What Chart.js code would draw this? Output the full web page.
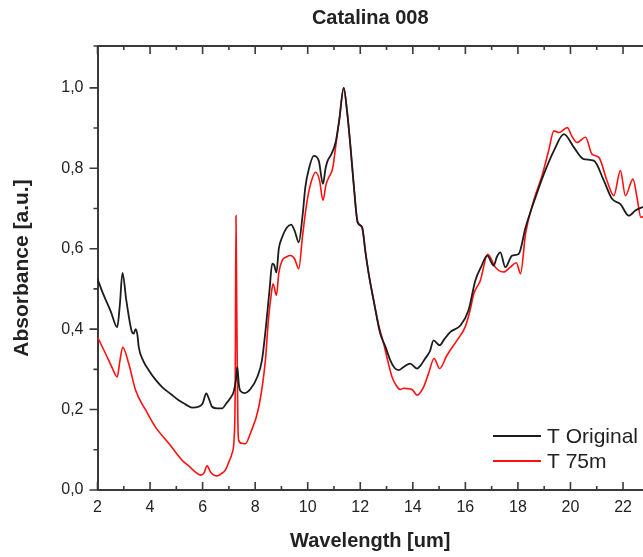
<!DOCTYPE html>
<html>
<head>
<meta charset="utf-8">
<script src="https://cdn.jsdelivr.net/npm/chart.js@4.4.1/dist/chart.umd.min.js"></script>
<style>
  html, body { margin: 0; padding: 0; background: #fff; }
  #wrap { width: 643px; height: 557px; }
</style>
</head>
<body>
<div id="wrap"><canvas id="myChart"></canvas></div>
<script>
// T Original (black)
const wlOriginal = [2.0, 2.2, 2.5, 2.75, 2.85, 2.95, 3.1, 3.3, 3.38, 3.45, 3.52, 3.57, 3.75, 3.95, 4.2, 4.46, 4.8, 5.09, 5.35, 5.6,
  5.85, 6.0, 6.14, 6.25, 6.36, 6.55, 6.74, 6.9, 7.05, 7.18, 7.27, 7.32, 7.38, 7.44, 7.6, 7.82, 8.08, 8.26, 8.4, 8.55,
  8.65, 8.72, 8.81, 8.9, 9.03, 9.2, 9.37, 9.5, 9.66, 9.8, 9.91, 10.05, 10.23, 10.42, 10.58, 10.68, 10.76, 10.9, 11.06, 11.2,
  11.37, 11.5, 11.63, 11.75, 11.9, 12.07, 12.2, 12.32, 12.51, 12.76, 12.96, 13.14, 13.3, 13.46, 13.65, 13.9, 14.16, 14.3, 14.47, 14.65,
  14.79, 15.02, 15.2, 15.43, 15.81, 16.12, 16.38, 16.6, 16.83, 17.08, 17.2, 17.33, 17.52, 17.78, 18.03, 18.29, 18.67, 18.99, 19.37, 19.75,
  20.13, 20.5, 20.89, 21.27, 21.58, 21.9, 22.22, 22.47, 22.8];
const absOriginal = [0.525, 0.49, 0.445, 0.405, 0.46, 0.54, 0.47, 0.395, 0.389, 0.40, 0.385, 0.355, 0.32, 0.298, 0.275, 0.256, 0.238, 0.223, 0.213, 0.205,
  0.207, 0.215, 0.240, 0.225, 0.207, 0.203, 0.203, 0.215, 0.228, 0.244, 0.275, 0.306, 0.262, 0.246, 0.241, 0.251, 0.281, 0.323, 0.40, 0.50,
  0.563, 0.56, 0.541, 0.60, 0.629, 0.652, 0.66, 0.645, 0.616, 0.68, 0.753, 0.80, 0.831, 0.819, 0.761, 0.80, 0.819, 0.835, 0.864, 0.92,
  1.0, 0.94, 0.852, 0.76, 0.666, 0.653, 0.59, 0.538, 0.471, 0.389, 0.356, 0.323, 0.304, 0.298, 0.306, 0.314, 0.302, 0.31, 0.327, 0.345,
  0.372, 0.36, 0.375, 0.393, 0.409, 0.447, 0.521, 0.555, 0.583, 0.558, 0.58, 0.591, 0.554, 0.583, 0.587, 0.653, 0.728, 0.786, 0.844, 0.885,
  0.852, 0.823, 0.819, 0.769, 0.724, 0.711, 0.682, 0.695, 0.705];

// T 75m (red)
const wl75m = [2.0, 2.3, 2.55, 2.75, 2.85, 2.96, 3.19, 3.45, 3.83, 4.2, 4.71, 5.22, 5.5, 5.72, 5.92, 6.05, 6.17, 6.3, 6.55, 6.7,
  6.87, 7.0, 7.12, 7.2, 7.24, 7.27, 7.3, 7.34, 7.37, 7.5, 7.63, 7.82, 8.14, 8.39, 8.5, 8.6, 8.68, 8.81, 8.9, 9.03,
  9.2, 9.34, 9.5, 9.66, 9.8, 9.98, 10.15, 10.3, 10.45, 10.58, 10.7, 10.8, 10.95, 11.06, 11.2, 11.37, 11.5, 11.63, 11.75, 11.9,
  12.07, 12.2, 12.32, 12.51, 12.7, 12.89, 13.05, 13.21, 13.35, 13.52, 13.65, 13.78, 13.97, 14.16, 14.41, 14.6, 14.81, 15.02, 15.3, 15.68,
  15.99, 16.18, 16.32, 16.57, 16.85, 17.14, 17.46, 17.71, 17.94, 18.1, 18.29, 18.6, 18.92, 19.17, 19.37, 19.56, 19.88, 20.05, 20.25, 20.57,
  20.82, 21.08, 21.39, 21.65, 21.9, 22.09, 22.38, 22.53, 22.68, 22.8];
const abs75m = [0.38, 0.34, 0.305, 0.281, 0.32, 0.355, 0.314, 0.248, 0.199, 0.157, 0.116, 0.074, 0.058, 0.045, 0.037, 0.042, 0.060, 0.045, 0.035, 0.04,
  0.05, 0.07, 0.091, 0.13, 0.25, 0.682, 0.45, 0.18, 0.124, 0.116, 0.115, 0.141, 0.207, 0.323, 0.42, 0.48, 0.513, 0.484, 0.54, 0.571,
  0.58, 0.583, 0.575, 0.55, 0.63, 0.72, 0.77, 0.79, 0.77, 0.72, 0.76, 0.777, 0.80, 0.852, 0.92, 1.0, 0.94, 0.852, 0.76, 0.666,
  0.653, 0.59, 0.538, 0.471, 0.41, 0.364, 0.32, 0.281, 0.262, 0.25, 0.253, 0.252, 0.25, 0.236, 0.256, 0.29, 0.327, 0.302, 0.335, 0.372,
  0.405, 0.447, 0.488, 0.521, 0.586, 0.554, 0.542, 0.554, 0.565, 0.538, 0.637, 0.72, 0.782, 0.844, 0.893, 0.889, 0.901, 0.88, 0.864, 0.877,
  0.835, 0.827, 0.769, 0.732, 0.794, 0.732, 0.773, 0.728, 0.678, 0.68];

const xTicks = [2, 4, 6, 8, 10, 12, 14, 16, 18, 20, 22];
const yTicks = [0, 0.2, 0.4, 0.6, 0.8, 1.0];

const FONT = "'Liberation Sans', Arial, sans-serif";
const axisColor = '#3a3a3a';
const textColor = '#222';

const toPts = (xs, ys) => xs.map((x, i) => ({x: x, y: ys[i]}));

// tick marks: x inward (bottom and top), y outward, plus the legend
const marksAndLegend = {
  id: 'marksAndLegend',
  afterDraw(chart) {
    const ctx = chart.ctx;
    const a = chart.chartArea;
    const xs = chart.scales.x, ys = chart.scales.y;
    ctx.save();
    ctx.strokeStyle = axisColor;
    ctx.lineWidth = 1.6;
    ctx.beginPath();
    xTicks.forEach((v, i) => {
      const px = xs.getPixelForValue(v);
      ctx.moveTo(px, a.bottom); ctx.lineTo(px, a.bottom - 8);
      ctx.moveTo(px, a.top); ctx.lineTo(px, a.top + 8);
      const m = v + (xTicks[1] - xTicks[0]) / 2;
      if (m < xs.max) {
        const pm = xs.getPixelForValue(m);
        ctx.moveTo(pm, a.bottom); ctx.lineTo(pm, a.bottom - 4);
        ctx.moveTo(pm, a.top); ctx.lineTo(pm, a.top + 4);
      }
    });
    yTicks.forEach((v) => {
      const py = ys.getPixelForValue(v);
      ctx.moveTo(a.left, py); ctx.lineTo(a.left - 8, py);
      const m = v + 0.1;
      if (m < 1.05) {
        const pm = ys.getPixelForValue(m);
        ctx.moveTo(a.left, pm); ctx.lineTo(a.left - 4, pm);
      }
    });
    // top line runs a little past the left axis
    ctx.moveTo(a.left - 4, a.top); ctx.lineTo(a.left, a.top);
    ctx.stroke();

    // legend
    ctx.font = '21px ' + FONT;
    ctx.textBaseline = 'middle';
    ctx.textAlign = 'left';
    chart.data.datasets.forEach((ds, i) => {
      const y = a.bottom - 54 + i * 25;
      ctx.strokeStyle = ds.borderColor;
      ctx.lineWidth = 2;
      ctx.beginPath();
      ctx.moveTo(a.right - 150, y); ctx.lineTo(a.right - 102, y);
      ctx.stroke();
      ctx.fillStyle = textColor;
      ctx.fillText(ds.label, a.right - 96, y + 1);
    });
    ctx.restore();
  }
};

const data = {
  datasets: [{
    label: 'T Original',
    data: toPts(wlOriginal, absOriginal),
    borderColor: '#1c1c1c',
    borderWidth: 1.8,
    pointRadius: 0,
    cubicInterpolationMode: 'monotone'
  }, {
    label: 'T 75m',
    data: toPts(wl75m, abs75m),
    borderColor: '#ff1010',
    borderWidth: 1.6,
    pointRadius: 0,
    cubicInterpolationMode: 'monotone'
  }]
};

const config = {
  type: 'line',
  data: data,
  options: {
    responsive: true,
    maintainAspectRatio: false,
    animation: false,
    events: [],
    layout: { padding: 0 },
    plugins: {
      legend: { display: false },
      tooltip: { enabled: false }
    },
    scales: {
      x: {
        type: 'linear',
        position: 'bottom',
        min: 2,
        max: 22.76,
        afterBuildTicks: (s) => { s.ticks = xTicks.map(v => ({value: v})); },
        afterFit: (s) => { s.height = 67; },
        grid: { display: true, drawOnChartArea: false, drawTicks: false },
        border: { display: true, color: axisColor, width: 2 },
        ticks: { padding: 8, color: textColor, font: { family: FONT, size: 16 } },
        title: {
          display: true, text: 'Wavelength [um]', color: textColor,
          font: { family: FONT, size: 20, weight: 'bold' },
          padding: { top: 0, bottom: 4 }
        }
      },
      x2: {
        type: 'linear',
        position: 'top',
        min: 2,
        max: 22.76,
        afterFit: (s) => { s.height = 46; },
        grid: { display: true, drawOnChartArea: false, drawTicks: false },
        border: { display: true, color: axisColor, width: 2 },
        ticks: { display: false },
        title: {
          display: true, text: 'Catalina 008', color: textColor,
          font: { family: FONT, size: 20, weight: 'bold' },
          padding: { top: 6, bottom: 0 }
        }
      },
      y: {
        type: 'linear',
        min: 0,
        max: 1.104,
        afterBuildTicks: (s) => { s.ticks = yTicks.map(v => ({value: v})); },
        afterFit: (s) => { s.width = 97.5; },
        grid: { display: true, drawOnChartArea: false, drawTicks: false },
        border: { display: true, color: axisColor, width: 2 },
        ticks: {
          padding: 14, color: textColor, font: { family: FONT, size: 16 },
          callback: (v) => v.toFixed(1).replace('.', ',')
        },
        title: {
          display: true, text: 'Absorbance [a.u.]', color: textColor,
          font: { family: FONT, size: 21, weight: 'bold' },
          padding: { top: 10, bottom: 0 }
        }
      }
    }
  },
  plugins: [marksAndLegend]
};

const myChart = new Chart(document.getElementById('myChart'), config);
</script>
</body>
</html>
